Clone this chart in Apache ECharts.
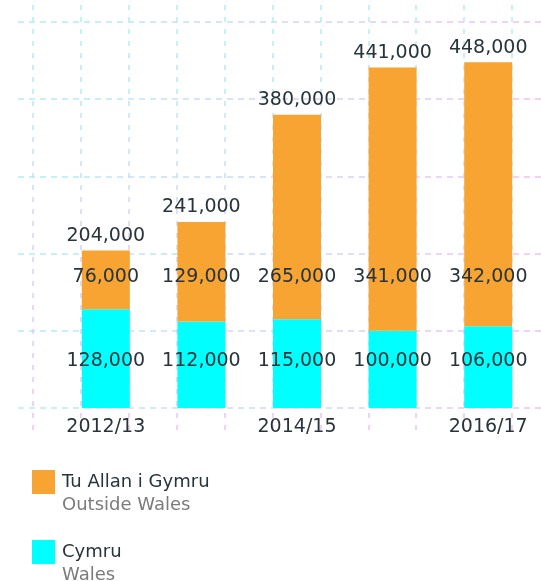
<!DOCTYPE html>
<html>
<head>
<meta charset="utf-8">
<script src="https://cdn.jsdelivr.net/npm/echarts@6/dist/echarts.min.js"></script>
<style>
  html, body { margin: 0; padding: 0; background: #ffffff; }
  #chart { width: 541px; height: 581px; }
</style>
</head>
<body>
<div id="chart"></div>
<script>
// Academic years
var categories = ['2012/13', '2013/14', '2014/15', '2015/16', '2016/17'];
// Students from Wales (Cymru)
var walesValues = [128000, 112000, 115000, 100000, 106000];
// Students from outside Wales (Tu Allan i Gymru)
var outsideValues = [76000, 129000, 265000, 341000, 342000];
// Totals printed above each column
var totals = [204000, 241000, 380000, 441000, 448000];

var seriesNames = {
  outside: ['Tu Allan i Gymru', 'Outside Wales'],
  wales: ['Cymru', 'Wales']
};

var FONT = 'DejaVu Sans';
var TEXT = '#27343a';
var ORANGE = '#f8a433';
var CYAN = '#00ffff';
var LINE_CYAN = '#aef0f8';
var LINE_PINK = '#f3bff3';
var LABEL_SIZE = 19;

function fmt(v) {
  return v.toLocaleString('en-GB');
}

var chart = echarts.init(document.getElementById('chart'), null, { renderer: 'canvas' });

var hGrad = new echarts.graphic.LinearGradient(0, 0, 1, 0, [
  { offset: 0, color: LINE_CYAN },
  { offset: 1, color: LINE_PINK }
]);
var vGrad = new echarts.graphic.LinearGradient(0, 0, 0, 1, [
  { offset: 0, color: LINE_CYAN },
  { offset: 1, color: LINE_PINK }
]);

var labelKeyOutside = seriesNames.outside[0] + '\n' + seriesNames.outside[1];
var labelKeyWales = seriesNames.wales[0] + '\n' + seriesNames.wales[1];

// value labels sit on two fixed rows across all columns
function rowLayout(y) {
  return function (params) {
    return {
      x: params.rect.x + params.rect.width / 2,
      y: y,
      align: 'center',
      verticalAlign: 'middle'
    };
  };
}

var option = {
  animation: false,
  backgroundColor: '#ffffff',
  textStyle: { fontFamily: FONT },
  grid: [
    // bars
    { left: 58, right: 5, top: 22, bottom: 173 },
    // horizontal guide lines
    { left: 18, right: 0, top: 22, bottom: 173 },
    // vertical guide lines
    { left: 33, right: 29, top: 5, bottom: 148 }
  ],
  xAxis: [
    {
      type: 'category',
      gridIndex: 0,
      data: categories,
      axisLine: { show: false },
      axisTick: { show: false },
      splitLine: { show: false },
      axisLabel: {
        interval: 1,
        margin: 10,
        color: TEXT,
        fontFamily: FONT,
        fontSize: LABEL_SIZE
      }
    },
    {
      type: 'value', gridIndex: 1, min: 0, max: 1,
      axisLine: { show: false }, axisTick: { show: false },
      axisLabel: { show: false }, splitLine: { show: false }
    },
    {
      type: 'value', gridIndex: 2, min: 0, max: 10, interval: 1,
      axisLine: { show: false }, axisTick: { show: false },
      axisLabel: { show: false },
      splitLine: {
        show: true,
        lineStyle: { color: vGrad, width: 1.5, type: [5, 7] }
      }
    }
  ],
  yAxis: [
    {
      type: 'value', gridIndex: 0, min: 0, max: 500000, interval: 100000,
      axisLine: { show: false }, axisTick: { show: false },
      axisLabel: { show: false }, splitLine: { show: false }
    },
    {
      type: 'value', gridIndex: 1, min: 0, max: 500000, interval: 100000,
      axisLine: { show: false }, axisTick: { show: false },
      axisLabel: { show: false },
      splitLine: {
        show: true,
        lineStyle: { color: hGrad, width: 1.5, type: [6, 5] }
      }
    },
    {
      type: 'value', gridIndex: 2, min: 0, max: 1,
      axisLine: { show: false }, axisTick: { show: false },
      axisLabel: { show: false }, splitLine: { show: false }
    }
  ],
  legend: {
    orient: 'vertical',
    left: 27,
    top: 445,
    height: 200,
    itemWidth: 23,
    itemHeight: 24,
    itemGap: 6,
    icon: 'rect',
    selectedMode: false,
    data: [labelKeyOutside, labelKeyWales],
    formatter: function (name) {
      var parts = name.split('\n');
      return '{e| }\n{a|' + parts[0] + '}\n{b|' + parts[1] + '}';
    },
    textStyle: {
      fontFamily: FONT,
      padding: [0, 0, 0, 2],
      rich: {
        e: { fontSize: 18, lineHeight: 23, fontFamily: FONT },
        a: { fontSize: 18, lineHeight: 23, color: TEXT, fontFamily: FONT },
        b: { fontSize: 18, lineHeight: 23, color: '#7b7b7b', fontFamily: FONT }
      }
    }
  },
  series: [
    {
      name: labelKeyWales,
      type: 'bar',
      stack: 'students',
      xAxisIndex: 0,
      yAxisIndex: 0,
      barWidth: 48,
      data: walesValues,
      itemStyle: { color: CYAN },
      label: {
        show: true,
        position: 'inside',
        color: TEXT,
        fontFamily: FONT,
        fontSize: LABEL_SIZE,
        formatter: function (p) { return fmt(p.value); }
      },
      labelLayout: rowLayout(361)
    },
    {
      name: labelKeyOutside,
      type: 'bar',
      stack: 'students',
      xAxisIndex: 0,
      yAxisIndex: 0,
      barWidth: 48,
      data: outsideValues,
      itemStyle: { color: ORANGE },
      label: {
        show: true,
        position: 'inside',
        color: TEXT,
        fontFamily: FONT,
        fontSize: LABEL_SIZE,
        formatter: function (p) { return fmt(p.value); }
      },
      labelLayout: rowLayout(277)
    },
    {
      name: 'total',
      type: 'scatter',
      xAxisIndex: 0,
      yAxisIndex: 0,
      symbolSize: 0,
      itemStyle: { color: TEXT, opacity: 1 },
      data: totals,
      label: {
        show: true,
        position: 'top',
        distance: 5,
        color: TEXT,
        fontFamily: FONT,
        fontSize: LABEL_SIZE,
        formatter: function (p) { return fmt(p.value); }
      },
      z: 5
    }
  ]
};

chart.setOption(option);
</script>
</body>
</html>
